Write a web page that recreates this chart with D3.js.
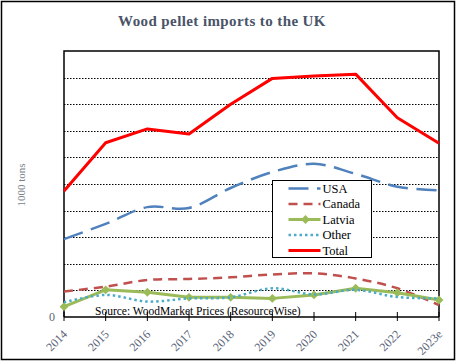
<!DOCTYPE html>
<html>
<head>
<meta charset="utf-8">
<script src="https://cdn.jsdelivr.net/npm/d3@7"></script>
<style>
	html, body { margin: 0; padding: 0; background: #fff; }
	svg { display: block; font-family: "Liberation Serif", "Times New Roman", serif; }
</style>
</head>
<body>
<div id="chart"></div>
<script>
// values in 1000 tons
const years = ['2014', '2015', '2016', '2017', '2018', '2019', '2020', '2021', '2022', '2023e'];
const usa = [2930, 3500, 4130, 4100, 4850, 5450, 5760, 5380, 4900, 4760];
const canada = [960, 1140, 1390, 1430, 1490, 1600, 1640, 1450, 1080, 450];
const latvia = [390, 1020, 930, 740, 740, 700, 830, 1080, 910, 640];
const other = [550, 830, 580, 700, 740, 1080, 850, 1020, 750, 700];
const total = [4740, 6550, 7070, 6880, 8000, 8970, 9060, 9130, 7490, 6530];
const gridTicks = [1000, 2000, 3000, 4000, 5000, 6000, 7000, 8000, 9000];

const width = 456;
const height = 361;
const margin = {top: 51, right: 17, bottom: 44, left: 64};

const series = [
	{name: 'USA', values: usa, color: '#4f81bd', dash: '20 8.5', width: 2.5, smooth: true},
	{name: 'Canada', values: canada, color: '#c0504d', dash: '9 6', width: 2.5, smooth: true},
	{name: 'Latvia', values: latvia, color: '#9bbb59', dash: null, width: 3, smooth: false, marker: true},
	{name: 'Other', values: other, color: '#4bacc6', dash: '2.5 3', width: 2.5, smooth: true},
	{name: 'Total', values: total, color: '#ff0000', dash: null, width: 3, smooth: false},
];

const svg = d3.select('#chart')
	.append('svg')
		.attr('width', width)
		.attr('height', height);

// outer chart border
svg.append('rect')
	.attr('x', 1.5).attr('y', 1.5)
	.attr('width', width - 3).attr('height', height - 3)
	.attr('fill', '#fff')
	.attr('stroke', '#000')
	.attr('stroke-width', 1.5);

const x = d3.scalePoint()
	.domain(years)
	.range([margin.left, width - margin.right]);
const y = d3.scaleLinear()
	.domain([0, 10000])
	.range([height - margin.bottom, margin.top]);

// title
svg.append('text')
	.attr('x', 222)
	.attr('y', 26)
	.attr('text-anchor', 'middle')
	.style('font-size', '15px')
	.style('font-weight', 'bold')
	.style('letter-spacing', '0.4px')
	.style('fill', '#4a5468')
	.text('Wood pellet imports to the UK');

// dotted gridlines
svg.append('g')
	.selectAll('line')
	.data(gridTicks)
	.enter()
		.append('line')
			.attr('x1', x.range()[0])
			.attr('x2', x.range()[1])
			.attr('y1', d => Math.round(y(d)) + 0.5)
			.attr('y2', d => Math.round(y(d)) + 0.5)
			.attr('stroke', '#000')
			.attr('stroke-width', 1)
			.attr('stroke-dasharray', '1.5 1.5');

// plot frame (top, left, right)
svg.append('path')
	.attr('d', `M${x.range()[0]},${y(0)}V${y(10000)}H${x.range()[1]}V${y(0)}`)
	.attr('fill', 'none')
	.attr('stroke', '#000')
	.attr('stroke-width', 1.5);

// y axis: only the zero label
svg.append('text')
	.attr('x', 55)
	.attr('y', y(0))
	.attr('dy', '0.3em')
	.attr('text-anchor', 'end')
	.style('font-size', '12px')
	.style('fill', '#5a6478')
	.text('0');

svg.append('text')
	.attr('transform', 'translate(25,185) rotate(-90)')
	.attr('text-anchor', 'middle')
	.style('font-size', '11px')
	.style('fill', '#7a7f8a')
	.text('1000 tons');

// source note sits inside the plot above the axis
svg.append('text')
	.attr('x', 95)
	.attr('y', 315)
	.style('font-size', '11.5px')
	.style('fill', '#000')
	.text('Source: WoodMarket Prices (ResourceWise)');

// lines
const lineFor = s => d3.line()
	.x((d, i) => x(years[i]))
	.y(d => y(d))
	.curve(s.smooth ? d3.curveCatmullRom.alpha(0.5) : d3.curveLinear);

const body = svg.append('g').attr('class', 'body');
series.forEach(s => {
	body.append('path')
		.datum(s.values)
		.attr('d', lineFor(s))
		.attr('fill', 'none')
		.attr('stroke', s.color)
		.attr('stroke-width', s.width)
		.attr('stroke-dasharray', s.dash)
		.attr('stroke-linejoin', 'round');
	if (s.marker) {
		body.selectAll('.marker')
			.data(s.values)
			.enter()
				.append('path')
					.attr('d', d3.symbol(d3.symbolDiamond2, 50))
					.attr('transform', (d, i) => `translate(${x(years[i])},${y(d)})`)
					.attr('fill', s.color);
	}
});

// x axis
const xAxis = svg.append('g')
	.attr('transform', `translate(0,${y(0)})`);
xAxis.append('line')
	.attr('x1', x.range()[0])
	.attr('x2', x.range()[1])
	.attr('stroke', '#000')
	.attr('stroke-width', 1.5);
xAxis.selectAll('.tick')
	.data(years)
	.enter()
		.append('line')
			.attr('x1', d => x(d))
			.attr('x2', d => x(d))
			.attr('y1', -5)
			.attr('y2', 4)
			.attr('stroke', '#000')
			.attr('stroke-width', 1);
xAxis.selectAll('.label')
	.data(years)
	.enter()
		.append('text')
			.attr('transform', d => `translate(${x(d) + 4},18) rotate(-45)`)
			.attr('text-anchor', 'end')
			.style('font-size', '12px')
			.style('fill', '#5a6478')
			.text(d => d);

// legend
const legend = svg.append('g')
	.attr('transform', 'translate(272.5,180.5)');
legend.append('rect')
	.attr('width', 99)
	.attr('height', 77)
	.attr('fill', '#fff')
	.attr('stroke', '#000')
	.attr('stroke-width', 1);
const rows = legend.selectAll('.row')
	.data(series)
	.enter()
		.append('g')
			.attr('transform', (d, i) => `translate(0,${8 + i * 15.5})`);
rows.append('line')
	.attr('x1', 16)
	.attr('x2', 48)
	.attr('stroke', d => d.color)
	.attr('stroke-width', d => d.width)
	.attr('stroke-dasharray', d => d.dash);
rows.filter(d => d.marker)
	.append('path')
		.attr('d', d3.symbol(d3.symbolDiamond2, 50))
		.attr('transform', 'translate(33,0)')
		.attr('fill', d => d.color);
rows.append('text')
	.attr('x', 50)
	.attr('dy', '0.35em')
	.style('font-size', '12.5px')
	.style('fill', '#000')
	.text(d => d.name);
</script>
</body>
</html>
